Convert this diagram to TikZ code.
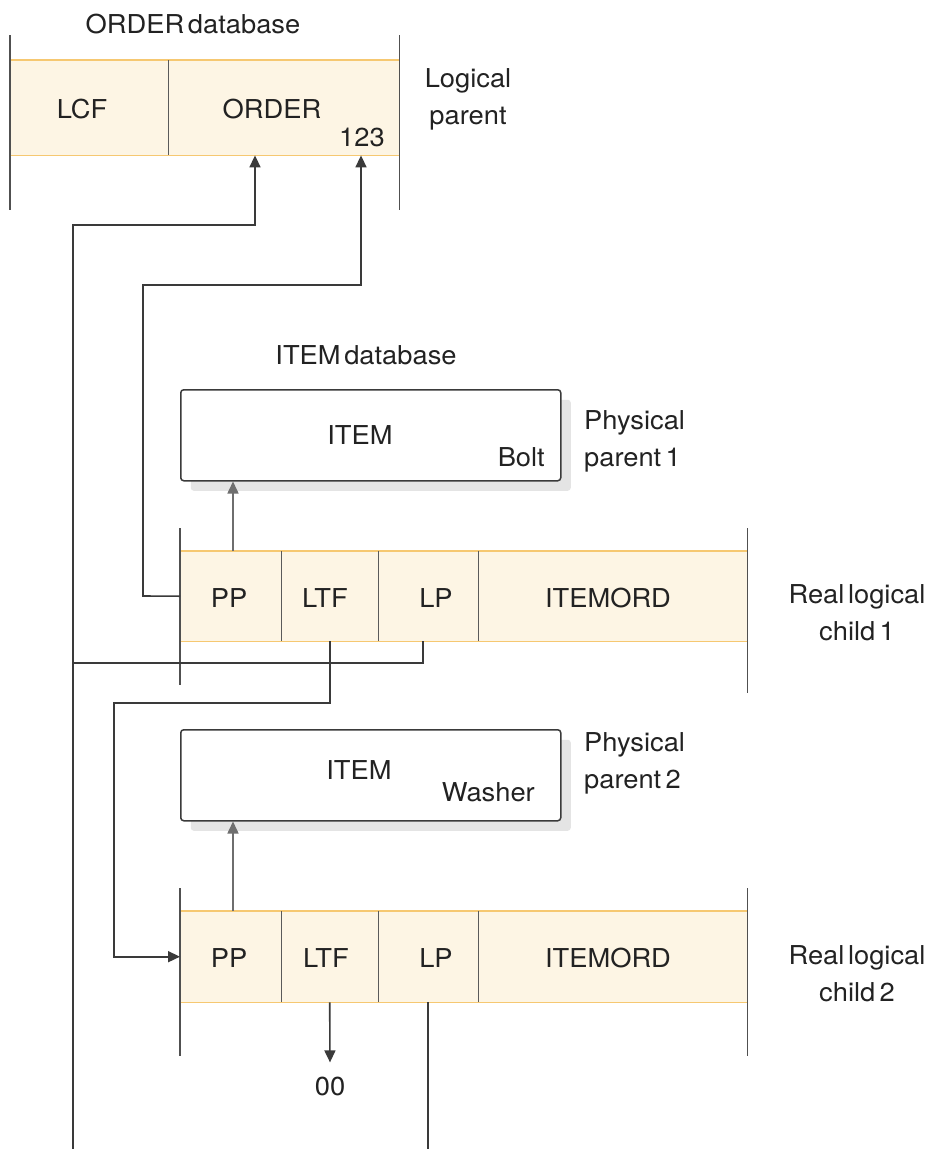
\documentclass[tikz,border=0pt]{standalone}
\usepackage{fontspec}
\setmainfont{TeX Gyre Heros}[FakeStretch=1.05]
\usetikzlibrary{arrows.meta,calc,shadows}
\definecolor{cream}{HTML}{FDF5E4}
\definecolor{orng}{HTML}{F6C871}
\definecolor{txt}{HTML}{222222}
\definecolor{ln}{HTML}{3A3A3A}
\definecolor{lnlight}{HTML}{6E6E6E}
\definecolor{shd}{HTML}{E4E4E4}
\definecolor{barc}{HTML}{505050}
\definecolor{divc}{HTML}{5A5A5A}
\newcommand\lblfont{\fontsize{26}{37}\selectfont\spaceskip=0.14em\relax}
\begin{document}
\begin{tikzpicture}[x=1pt,y=-1pt,
  lbl/.style={font=\lblfont, text=txt, inner sep=0pt, anchor=base},
  cell/.style={fill=cream, inner sep=0pt, anchor=north west, minimum height=#1},
  itembox/.style={draw=ln, line width=1.5pt, fill=white, rounded corners=3pt,
     minimum width=380pt, minimum height=91pt, anchor=north west, inner sep=0pt,
     drop shadow={shadow xshift=10pt, shadow yshift=-10pt, fill=shd, opacity=1}},
  orl/.style={draw=orng, line width=1.8pt},
  divl/.style={draw=divc, line width=1.5pt},
  barl/.style={draw=barc, line width=1.7pt},
  conn/.style={draw=ln, line width=1.6pt},
  arr/.style={conn, -{Triangle[length=12pt,width=11pt]}},
  arrl/.style={draw=lnlight, line width=1.6pt, -{Triangle[length=12pt,width=11pt]}}
]
\fill[white] (0,0) rectangle (929,1149);
\path[use as bounding box] (0,0) rectangle (929,1149);

% ---------- ORDER database ----------
\node[lbl] (orddb) at (193,33) {ORDER database};
\node[cell=95pt, minimum width=158pt] (lcf) at (10,60) {};
\node[cell=95pt, minimum width=231pt] (ord) at (168,60) {};
\draw[orl] (lcf.north west) -- (ord.north east);
\draw[orl] (lcf.south west) -- (ord.south east);
\draw[divl] (lcf.north east) -- (lcf.south east);
\draw[barl] ($(lcf.north west)+(0,-25)$) -- ($(lcf.south west)+(0,55)$);
\draw[barl] ($(ord.north east)+(0,-25)$) -- ($(ord.south east)+(0,55)$);
\node[lbl] (lcft) at (82,118) {LCF};
\node[lbl] (ordt) at (272,118) {ORDER};
\node[lbl] (n123) at (362,146) {123};
\node[lbl, align=center] (lpar) at (468,124) {Logical\\parent};

% ---------- ITEM database ----------
\node[lbl] (itemdb) at (366,364) {ITEM database};
\node[itembox] (it1) at (180,389) {};
\node[lbl] (it1t) at (360,444) {ITEM};
\node[lbl, anchor=base east] (bolt) at (545,466) {Bolt};
\node[lbl, anchor=base west, align=left] (pp1lbl) at (584,466) {Physical\\parent\,1};

% child 1
\node[cell=90pt, minimum width=101pt] (pp1) at (180,551) {};
\node[cell=90pt, minimum width=97pt] (ltf1) at (281,551) {};
\node[cell=90pt, minimum width=100pt] (lp1) at (378,551) {};
\node[cell=90pt, minimum width=269pt] (io1) at (478,551) {};
\draw[orl] (pp1.north west) -- (io1.north east);
\draw[orl] (pp1.south west) -- (io1.south east);
\draw[divl] (pp1.north east) -- (pp1.south east);
\draw[divl] (ltf1.north east) -- (ltf1.south east);
\draw[divl] (lp1.north east) -- (lp1.south east);
\draw[barl] ($(pp1.north west)+(0,-23)$) -- ($(pp1.south west)+(0,44)$);
\draw[barl] ($(io1.north east)+(0,-23)$) -- ($(io1.south east)+(0,52)$);
\node[lbl] (pp1t) at (229,607) {PP};
\node[lbl] (ltf1t) at (325,607) {LTF};
\node[lbl] (lp1t) at (436,607) {LP};
\node[lbl] (io1t) at (608,607) {ITEMORD};
\node[lbl, align=center] (rlc1) at (857,640) {Real logical\\child\,1};

% item 2
\node[itembox] (it2) at (180,729) {};
\node[lbl] (it2t) at (359,779) {ITEM};
\node[lbl, anchor=base east] (washer) at (535,801) {Washer};
\node[lbl, anchor=base west, align=left] (pp2lbl) at (584,788) {Physical\\parent\,2};

% child 2
\node[cell=91pt, minimum width=101pt] (pp2) at (180,911) {};
\node[cell=91pt, minimum width=97pt] (ltf2) at (281,911) {};
\node[cell=91pt, minimum width=100pt] (lp2) at (378,911) {};
\node[cell=91pt, minimum width=269pt] (io2) at (478,911) {};
\draw[orl] (pp2.north west) -- (io2.north east);
\draw[orl] (pp2.south west) -- (io2.south east);
\draw[divl] (pp2.north east) -- (pp2.south east);
\draw[divl] (ltf2.north east) -- (ltf2.south east);
\draw[divl] (lp2.north east) -- (lp2.south east);
\draw[barl] ($(pp2.north west)+(0,-23)$) -- ($(pp2.south west)+(0,54)$);
\draw[barl] ($(io2.north east)+(0,-23)$) -- ($(io2.south east)+(0,54)$);
\node[lbl] (pp2t) at (229,967) {PP};
\node[lbl] (ltf2t) at (326,967) {LTF};
\node[lbl] (lp2t) at (436,967) {LP};
\node[lbl] (io2t) at (608,967) {ITEMORD};
\node[lbl, align=center] (rlc2) at (857,1001) {Real logical\\child\,2};
\node[lbl] (zz) at (330,1095) {00};

% ---------- connectors ----------
\coordinate (bl) at (73,1149);
\coordinate (j1) at (73,663);
\coordinate (bl2) at (428,1149);
\draw[arr] (bl) -- (73,225) -| ($(ord.south west)+(87,0)$);
\draw[conn] ($(lp1.south west)+(45,0)$) |- (j1);
\draw[arr] (pp1.west) -- (143,596) -- (143,285) -| ($(ord.south west)+(193,0)$);
\draw[arr] (ltf1.south) |- (114,703) |- (pp2.west);
\draw[arrl] ($(pp1.north west)+(53,0)$) -- ($(it1.south west)+(53,0)$);
\draw[arrl] ($(pp2.north west)+(53,0)$) -- ($(it2.south west)+(53,0)$);
\draw[arr] (ltf2.south) -- ([yshift=14pt]zz.north);
\draw[conn] ($(lp2.south west)+(50,0)$) -- (bl2);
\end{tikzpicture}
\end{document}
